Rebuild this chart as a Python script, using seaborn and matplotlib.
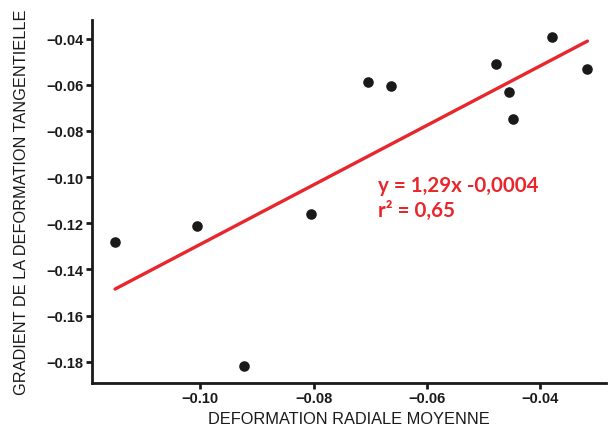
import matplotlib
matplotlib.use("Agg")
import matplotlib.pyplot as plt
import numpy as np
import pandas as pd
import seaborn as sns

# values
radial = [-0.1150, -0.1005, -0.0922, -0.0805, -0.0704, -0.0664,
          -0.0478, -0.0456, -0.0449, -0.0379, -0.0317]
gradient = [-0.1281, -0.1213, -0.1819, -0.1158, -0.0588, -0.0604,
            -0.0510, -0.0630, -0.0747, -0.0393, -0.0531]
x_ticks = [-0.10, -0.08, -0.06, -0.04]
y_ticks = [-0.04, -0.06, -0.08, -0.10, -0.12, -0.14, -0.16, -0.18]
equation = "y = 1,29x -0,0004\nr² = 0,65"

df = pd.DataFrame({"radial": radial, "gradient": gradient})

sns.set_style("ticks")
plt.rcParams['font.family'] = ['Liberation Sans', 'DejaVu Sans']

fig = plt.figure(figsize=(6.08, 4.31), dpi=100)
ax = fig.add_axes([0.151, 0.109, 0.845, 0.842])

sns.regplot(data=df, x="radial", y="gradient", ax=ax, ci=None,
            scatter_kws=dict(s=58, color="#1a1a1a", alpha=1, linewidths=0, zorder=3),
            line_kws=dict(color="#e8262b", lw=2.4, zorder=2))

ax.set_xlim(-0.1191, -0.0285)
ax.set_ylim(-0.1892, -0.032)
ax.set_xticks(x_ticks)
ax.set_yticks(y_ticks)
ax.set_xticklabels([f"\u2212{abs(v):.2f}" for v in x_ticks])
ax.set_yticklabels([f"\u2212{abs(v):.2f}" for v in y_ticks])
ax.tick_params(labelsize=10.5, width=2, length=4, color="#1a1a1a", pad=2)
for lab in ax.get_xticklabels() + ax.get_yticklabels():
    lab.set_fontweight("bold")
    lab.set_color("#1a1a1a")

sns.despine(ax=ax)
for s in ["left", "bottom"]:
    ax.spines[s].set_linewidth(2)
    ax.spines[s].set_color("#1a1a1a")

ax.set_xlabel("DEFORMATION RADIALE MOYENNE", fontsize=11.8, color="#1a1a1a", labelpad=4)
ax.set_ylabel("GRADIENT DE LA DEFORMATION TANGENTIELLE", fontsize=11.8, color="#1a1a1a", labelpad=12)

ax.text(-0.0687, -0.0990, equation, fontsize=14.8, fontweight="bold",
        family=["Lato", "DejaVu Sans"], color="#e8262b", va="top", ha="left",
        linespacing=1.3)

fig.savefig("out.png", dpi=100)
